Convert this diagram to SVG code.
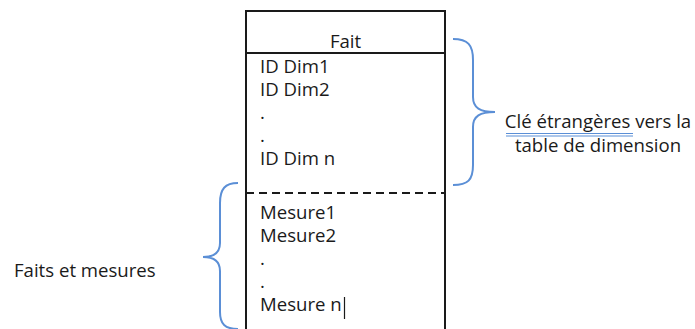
<svg xmlns="http://www.w3.org/2000/svg" width="695" height="329" viewBox="0 0 695 329">
  <style>
    .t { font-family: "Open Sans", "Liberation Sans", sans-serif; font-size: 18.6px; fill: #1a1a1a; }
    .rule { stroke: #1a1a1a; stroke-width: 2; fill: none; }
    .brace { stroke: #5b8fd6; stroke-width: 2; fill: none; }
  </style>
  <rect width="695" height="329" fill="#ffffff"/>

  <!-- Fact table -->
  <g id="fait">
    <path class="rule" d="M246,340 V11 H445 V340"/>
    <line class="rule" x1="246" y1="53" x2="445" y2="53"/>
    <line class="rule" x1="246" y1="193" x2="445" y2="193" stroke-dasharray="8,5"/>
    <text class="t" x="345.5" y="48" text-anchor="middle">Fait</text>
    <text class="t" x="260" y="73">ID Dim1</text>
    <text class="t" x="260" y="96">ID Dim2</text>
    <text class="t" x="260" y="119">.</text>
    <text class="t" x="260" y="142">.</text>
    <text class="t" x="260" y="165">ID Dim n</text>
    <text class="t" x="260" y="219">Mesure1</text>
    <text class="t" x="260" y="242">Mesure2</text>
    <text class="t" x="260" y="265">.</text>
    <text class="t" x="260" y="288">.</text>
    <text class="t" x="260" y="311">Mesure n</text>
    <line x1="344.5" y1="297" x2="344.5" y2="319" stroke="#1a1a1a" stroke-width="1.2"/>
  </g>

  <!-- Braces -->
  <g id="connectors">
    <path class="brace" d="M453,39 C468,39 473,45 473,60 V97 C473,108 480,112 495,112 C480,112 473,116 473,127 V165 C473,180 468,185 453,185"/>
    <path class="brace" d="M238,183 C225,183 220,189 220,203 V243 C220,253 214,257 203,257 C214,257 220,261 220,271 V312 C220,324 225,329 238,329"/>
  </g>

  <!-- Labels -->
  <g id="label-cles">
    <text class="t" x="598" y="128" text-anchor="middle">Clé étrangères vers la</text>
    <text class="t" x="598" y="152" text-anchor="middle">table de dimension</text>
    <line x1="506" y1="133.5" x2="633" y2="133.5" stroke="#5b8fd6" stroke-width="1"/>
    <line x1="506" y1="136" x2="633" y2="136" stroke="#5b8fd6" stroke-width="1"/>
  </g>
  <g id="label-mesures">
    <text class="t" x="14" y="277">Faits et mesures</text>
  </g>
</svg>
